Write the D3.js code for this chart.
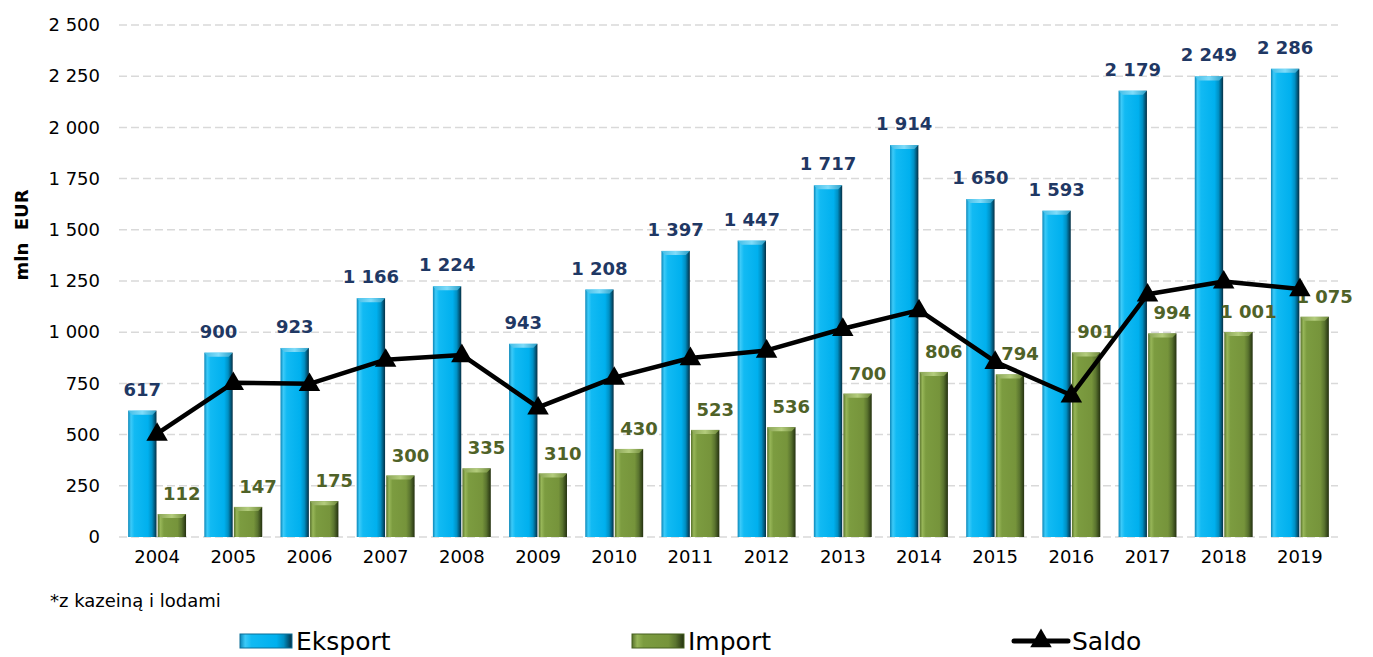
<!DOCTYPE html>
<html>
<head>
<meta charset="utf-8">
<script src="https://cdn.jsdelivr.net/npm/d3@7"></script>
<style>
  body { margin: 0; background: #fff; }
  text { font-family: 'DejaVu Sans', Verdana, sans-serif; }
</style>
</head>
<body>
<script>
const WIDTH = 1373
const HEIGHT = 657

const YEARS = ['2004', '2005', '2006', '2007', '2008', '2009', '2010', '2011',
  '2012', '2013', '2014', '2015', '2016', '2017', '2018', '2019']
const EKSPORT = [617, 900, 923, 1166, 1224, 943, 1208, 1397, 1447, 1717, 1914, 1650, 1593, 2179, 2249, 2286]
const IMPORT = [112, 147, 175, 300, 335, 310, 430, 523, 536, 700, 806, 794, 901, 994, 1001, 1075]
const SALDO = [505, 753, 748, 866, 889, 633, 778, 874, 911, 1017, 1108, 856, 692, 1185, 1248, 1211]
const Y_TICKS = [0, 250, 500, 750, 1000, 1250, 1500, 1750, 2000, 2250, 2500]

const fmt = v => d3.format(',')(v).replace(/,/g, ' ')

const svg = d3.select('body')
  .append('svg')
  .attr('width', WIDTH)
  .attr('height', HEIGHT)

// gradients for the bevelled bars
const defs = svg.append('defs')
const grad = (id, stops) => {
  const g = defs.append('linearGradient').attr('id', id)
    .attr('x1', 0).attr('x2', 1).attr('y1', 0).attr('y2', 0)
  stops.forEach(([o, c]) => g.append('stop').attr('offset', o).attr('stop-color', c))
}
grad('gEks', [[0, '#0a86b8'], [0.1, '#3ccaf8'], [0.22, '#12baf3'], [0.7, '#00b0ee'], [0.84, '#0090c4'], [1, '#052f44']])
grad('gImp', [[0, '#57712b'], [0.1, '#97b658'], [0.22, '#7c9c40'], [0.7, '#76943b'], [0.84, '#5a742f'], [1, '#243110']])
grad('gEksTop', [[0, '#45bde6'], [0.5, '#7fdcfa'], [1, '#2a9fc8']])
grad('gImpTop', [[0, '#8aa456'], [0.5, '#b3cc7c'], [1, '#6f8a3a']])

const x = d3.scaleBand()
  .domain(YEARS)
  .range([119, 1338])
  .paddingInner(0.24)
  .paddingOuter(0.12)

const xSub = d3.scaleBand()
  .domain(['e', 'i'])
  .range([0, x.bandwidth()])
  .paddingInner(0.04)

const y = d3.scaleLinear()
  .domain([0, 2500])
  .range([537, 25])

// siatka
svg.append('g')
  .selectAll('line')
  .data(Y_TICKS)
  .enter()
  .append('line')
  .attr('x1', 119)
  .attr('x2', 1338)
  .attr('y1', d => y(d))
  .attr('y2', d => y(d))
  .attr('stroke', '#d9d9d9')
  .attr('stroke-width', 1.5)
  .attr('stroke-dasharray', '8,4')

// oś y
const yAxis = svg.append('g')
  .attr('transform', 'translate(100,0)')
  .call(d3.axisLeft(y).tickValues(Y_TICKS).tickFormat(fmt).tickSize(0).tickPadding(0))
yAxis.select('.domain').remove()
yAxis.selectAll('text')
  .attr('font-size', 18)
  .attr('fill', '#000')
  .style('font-family', "'DejaVu Sans', Verdana, sans-serif")

// oś x
const xAxis = svg.append('g')
  .attr('transform', 'translate(0,548)')
  .call(d3.axisBottom(x).tickSize(0).tickPadding(0))
xAxis.select('.domain').remove()
xAxis.selectAll('text')
  .attr('font-size', 18)
  .attr('fill', '#000')
  .attr('dy', '0.85em')
  .style('font-family', "'DejaVu Sans', Verdana, sans-serif")

svg.append('text')
  .attr('transform', 'translate(28,235) rotate(-90)')
  .attr('text-anchor', 'middle')
  .attr('font-size', 18)
  .attr('font-weight', 'bold')
  .attr('xml:space', 'preserve')
  .text('mln  EUR')

const drawBars = (values, key, fill, top) => {
  const g = svg.append('g')
  const bw = xSub.bandwidth()
  values.forEach((v, i) => {
    const x0 = x(YEARS[i]) + xSub(key)
    g.append('rect')
      .attr('x', x0)
      .attr('y', y(v))
      .attr('width', bw)
      .attr('height', y(0) - y(v))
      .attr('fill', `url(#${fill})`)
    g.append('polygon')
      .attr('points', [[x0, y(v)], [x0 + bw, y(v)], [x0 + bw - 4, y(v) + 4], [x0 + 4, y(v) + 4]].join(' '))
      .attr('fill', `url(#${top})`)
  })
}
drawBars(EKSPORT, 'e', 'gEks', 'gEksTop')
drawBars(IMPORT, 'i', 'gImp', 'gImpTop')

// etykiety
svg.append('g')
  .selectAll('text')
  .data(EKSPORT)
  .enter()
  .append('text')
  .attr('x', (d, i) => x(YEARS[i]) + xSub('e') + xSub.bandwidth() / 2)
  .attr('y', d => y(d) - 15)
  .attr('text-anchor', 'middle')
  .attr('font-size', 18)
  .attr('font-weight', 'bold')
  .attr('fill', '#1f3864')
  .text(fmt)

svg.append('g')
  .selectAll('text')
  .data(IMPORT)
  .enter()
  .append('text')
  .attr('x', (d, i) => x(YEARS[i]) + xSub('i') + xSub.bandwidth() / 2 + 10)
  .attr('y', d => y(d) - 14)
  .attr('text-anchor', 'middle')
  .attr('font-size', 18)
  .attr('font-weight', 'bold')
  .attr('fill', '#4f6228')
  .text(fmt)

// saldo
const cx = i => x(YEARS[i]) + x.bandwidth() / 2
const line = d3.line()
  .x((d, i) => cx(i))
  .y(d => y(d))

svg.append('path')
  .datum(SALDO)
  .attr('d', line)
  .attr('fill', 'none')
  .attr('stroke', '#000')
  .attr('stroke-width', 4.5)
  .attr('stroke-linejoin', 'round')

const tri = d3.symbol().type(d3.symbolTriangle).size(200)
svg.append('g')
  .selectAll('path')
  .data(SALDO)
  .enter()
  .append('path')
  .attr('d', tri)
  .attr('transform', (d, i) => `translate(${cx(i)},${y(d) + 1})`)
  .attr('fill', '#000')

// przypis
svg.append('text')
  .attr('x', 50)
  .attr('y', 607)
  .attr('font-size', 18)
  .text('*z kazeiną i lodami')

// legenda (lekko podniesiona, żeby litery nie były ucięte)
const legend = svg.append('g')
const LEG_Y = 641
;[['Eksport', 240, 'gEks'], ['Import', 632, 'gImp']].forEach(([name, lx, f]) => {
  legend.append('rect')
    .attr('x', lx).attr('y', LEG_Y - 7).attr('width', 52).attr('height', 14)
    .attr('fill', `url(#${f})`)
  legend.append('rect')
    .attr('x', lx).attr('y', LEG_Y - 7).attr('width', 52).attr('height', 14)
    .attr('fill', 'none').attr('stroke', f === 'gEks' ? '#0a6f98' : '#46601f').attr('stroke-width', 1)
  legend.append('text')
    .attr('x', lx + 56).attr('y', LEG_Y + 9)
    .attr('font-size', 25)
    .text(name)
})
legend.append('line')
  .attr('x1', 1014).attr('x2', 1068)
  .attr('y1', LEG_Y).attr('y2', LEG_Y)
  .attr('stroke', '#000').attr('stroke-width', 5).attr('stroke-linecap', 'round')
legend.append('path')
  .attr('d', tri)
  .attr('transform', `translate(1041,${LEG_Y})`)
legend.append('text')
  .attr('x', 1072).attr('y', LEG_Y + 9)
  .attr('font-size', 25)
  .text('Saldo')
</script>
</body>
</html>
